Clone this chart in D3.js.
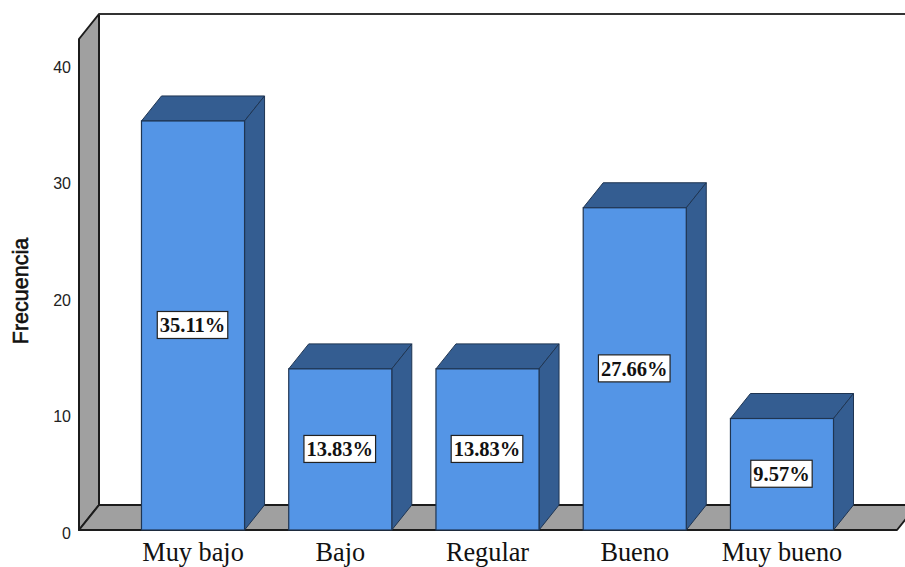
<!DOCTYPE html>
<html><head><meta charset="utf-8">
<script src="https://cdn.jsdelivr.net/npm/d3@7/dist/d3.min.js"></script>
<style>
html,body{margin:0;padding:0;background:#fff;overflow:hidden}
svg{display:block}
</style></head><body>
<svg id="chart" width="905" height="567"></svg>
<script>
const categories = ["Muy bajo", "Bajo", "Regular", "Bueno", "Muy bueno"];
const percentages = [35.11, 13.83, 13.83, 27.66, 9.57];
const yTicks = [0, 10, 20, 30, 40];
const axisTitle = "Frecuencia";

const svg = d3.select("#chart");
const depthX = 20, depthY = -25;       // oblique offset of the 3D projection
const frontLeft = 79, frontBase = 530, wallTop = 39, floorRight = 897;
const line = "#1c1c1c", wallFill = "#a0a0a0";
const barFront = "#5495e6", barSide = "#345d91", barEdge = "#1f3552";

const y = d3.scaleLinear().domain([0, 40]).range([frontBase, frontBase - 40 * 11.65]);
const x = d3.scaleBand().domain(categories).range([119.4, 855.6]).paddingInner(0.3).paddingOuter(0.15);

const poly = (pts) => pts.map(p => p.join(",")).join(" ");

// Left wall, floor and the back-wall outline
svg.append("polygon")
  .attr("points", poly([[frontLeft, frontBase], [frontLeft, wallTop], [frontLeft + depthX, wallTop + depthY], [frontLeft + depthX, frontBase + depthY]]))
  .attr("fill", wallFill).attr("stroke", line).attr("stroke-width", 2).attr("stroke-linejoin", "round");
svg.append("polygon")
  .attr("points", poly([[frontLeft, frontBase], [floorRight, frontBase], [floorRight + depthX, frontBase + depthY], [frontLeft + depthX, frontBase + depthY]]))
  .attr("fill", wallFill).attr("stroke", line).attr("stroke-width", 2).attr("stroke-linejoin", "round");
svg.append("line")
  .attr("x1", frontLeft + depthX).attr("x2", 905)
  .attr("y1", wallTop + depthY).attr("y2", wallTop + depthY)
  .attr("stroke", "#333").attr("stroke-width", 2);

// Value axis: numbers only, no rule or tick marks
const yAxis = svg.append("g")
  .attr("transform", `translate(${frontLeft - 8},0)`)
  .call(d3.axisLeft(y).tickValues(yTicks).tickSize(0).tickPadding(0).tickFormat(d3.format("d")));
yAxis.select(".domain").remove();
yAxis.selectAll("text")
  .attr("font-family", "'Liberation Sans', Arial, sans-serif")
  .attr("font-size", 16).attr("fill", "#222")
  .attr("dy", "0.5em");

svg.append("text")
  .attr("transform", "translate(28,291) rotate(-90)")
  .attr("text-anchor", "middle")
  .attr("font-family", "'Liberation Sans', Arial, sans-serif")
  .attr("font-size", 21.5).attr("fill", "#111")
  .attr("stroke", "#111").attr("stroke-width", 0.6)
  .text(axisTitle);

// Bars: top and side faces first, then the front face
const bars = svg.selectAll("g.bar").data(categories.map((c, i) => ({c, v: percentages[i]})))
  .join("g").attr("class", "bar");
const bw = x.bandwidth();

bars.append("polygon")
  .attr("points", d => poly([[x(d.c), y(d.v)], [x(d.c) + depthX, y(d.v) + depthY], [x(d.c) + bw + depthX, y(d.v) + depthY], [x(d.c) + bw, y(d.v)]]))
  .attr("fill", barSide).attr("stroke", barEdge).attr("stroke-width", 1);
bars.append("polygon")
  .attr("points", d => poly([[x(d.c) + bw, y(d.v)], [x(d.c) + bw + depthX, y(d.v) + depthY], [x(d.c) + bw + depthX, y(0) + depthY], [x(d.c) + bw, y(0)]]))
  .attr("fill", barSide).attr("stroke", barEdge).attr("stroke-width", 1);
bars.append("rect")
  .attr("x", d => x(d.c)).attr("y", d => y(d.v))
  .attr("width", bw).attr("height", d => y(0) - y(d.v))
  .attr("fill", barFront).attr("stroke", barEdge).attr("stroke-width", 1.2);

// Percentage labels in white boxes at mid-height of each bar
const labelFormat = d => d.toFixed(2) + "%";
const labels = bars.append("g")
  .attr("transform", d => `translate(${x(d.c) + bw / 2 - 0.5},${(y(0) + y(d.v)) / 2 - 0.5})`);
labels.append("text")
  .attr("text-anchor", "middle").attr("dy", "0.35em")
  .attr("font-family", "'Liberation Serif', 'Times New Roman', serif")
  .attr("font-weight", "bold").attr("font-size", 20.5).attr("fill", "#111")
  .text(d => labelFormat(d.v));
labels.insert("rect", "text")
  .attr("x", function() { return -this.parentNode.querySelector("text").getComputedTextLength() / 2 - 2.5; })
  .attr("y", -13.5)
  .attr("width", function() { return this.parentNode.querySelector("text").getComputedTextLength() + 5; })
  .attr("height", 27)
  .attr("fill", "#fff").attr("stroke", "#222").attr("stroke-width", 1.2);

// Category labels under the floor
svg.selectAll("text.cat").data(categories).join("text")
  .attr("class", "cat")
  .attr("x", d => x(d) + bw / 2).attr("y", 561)
  .attr("text-anchor", "middle")
  .attr("font-family", "'Liberation Serif', 'Times New Roman', serif")
  .attr("font-size", 26.3).attr("fill", "#111")
  .text(d => d);
</script>
</body></html>
